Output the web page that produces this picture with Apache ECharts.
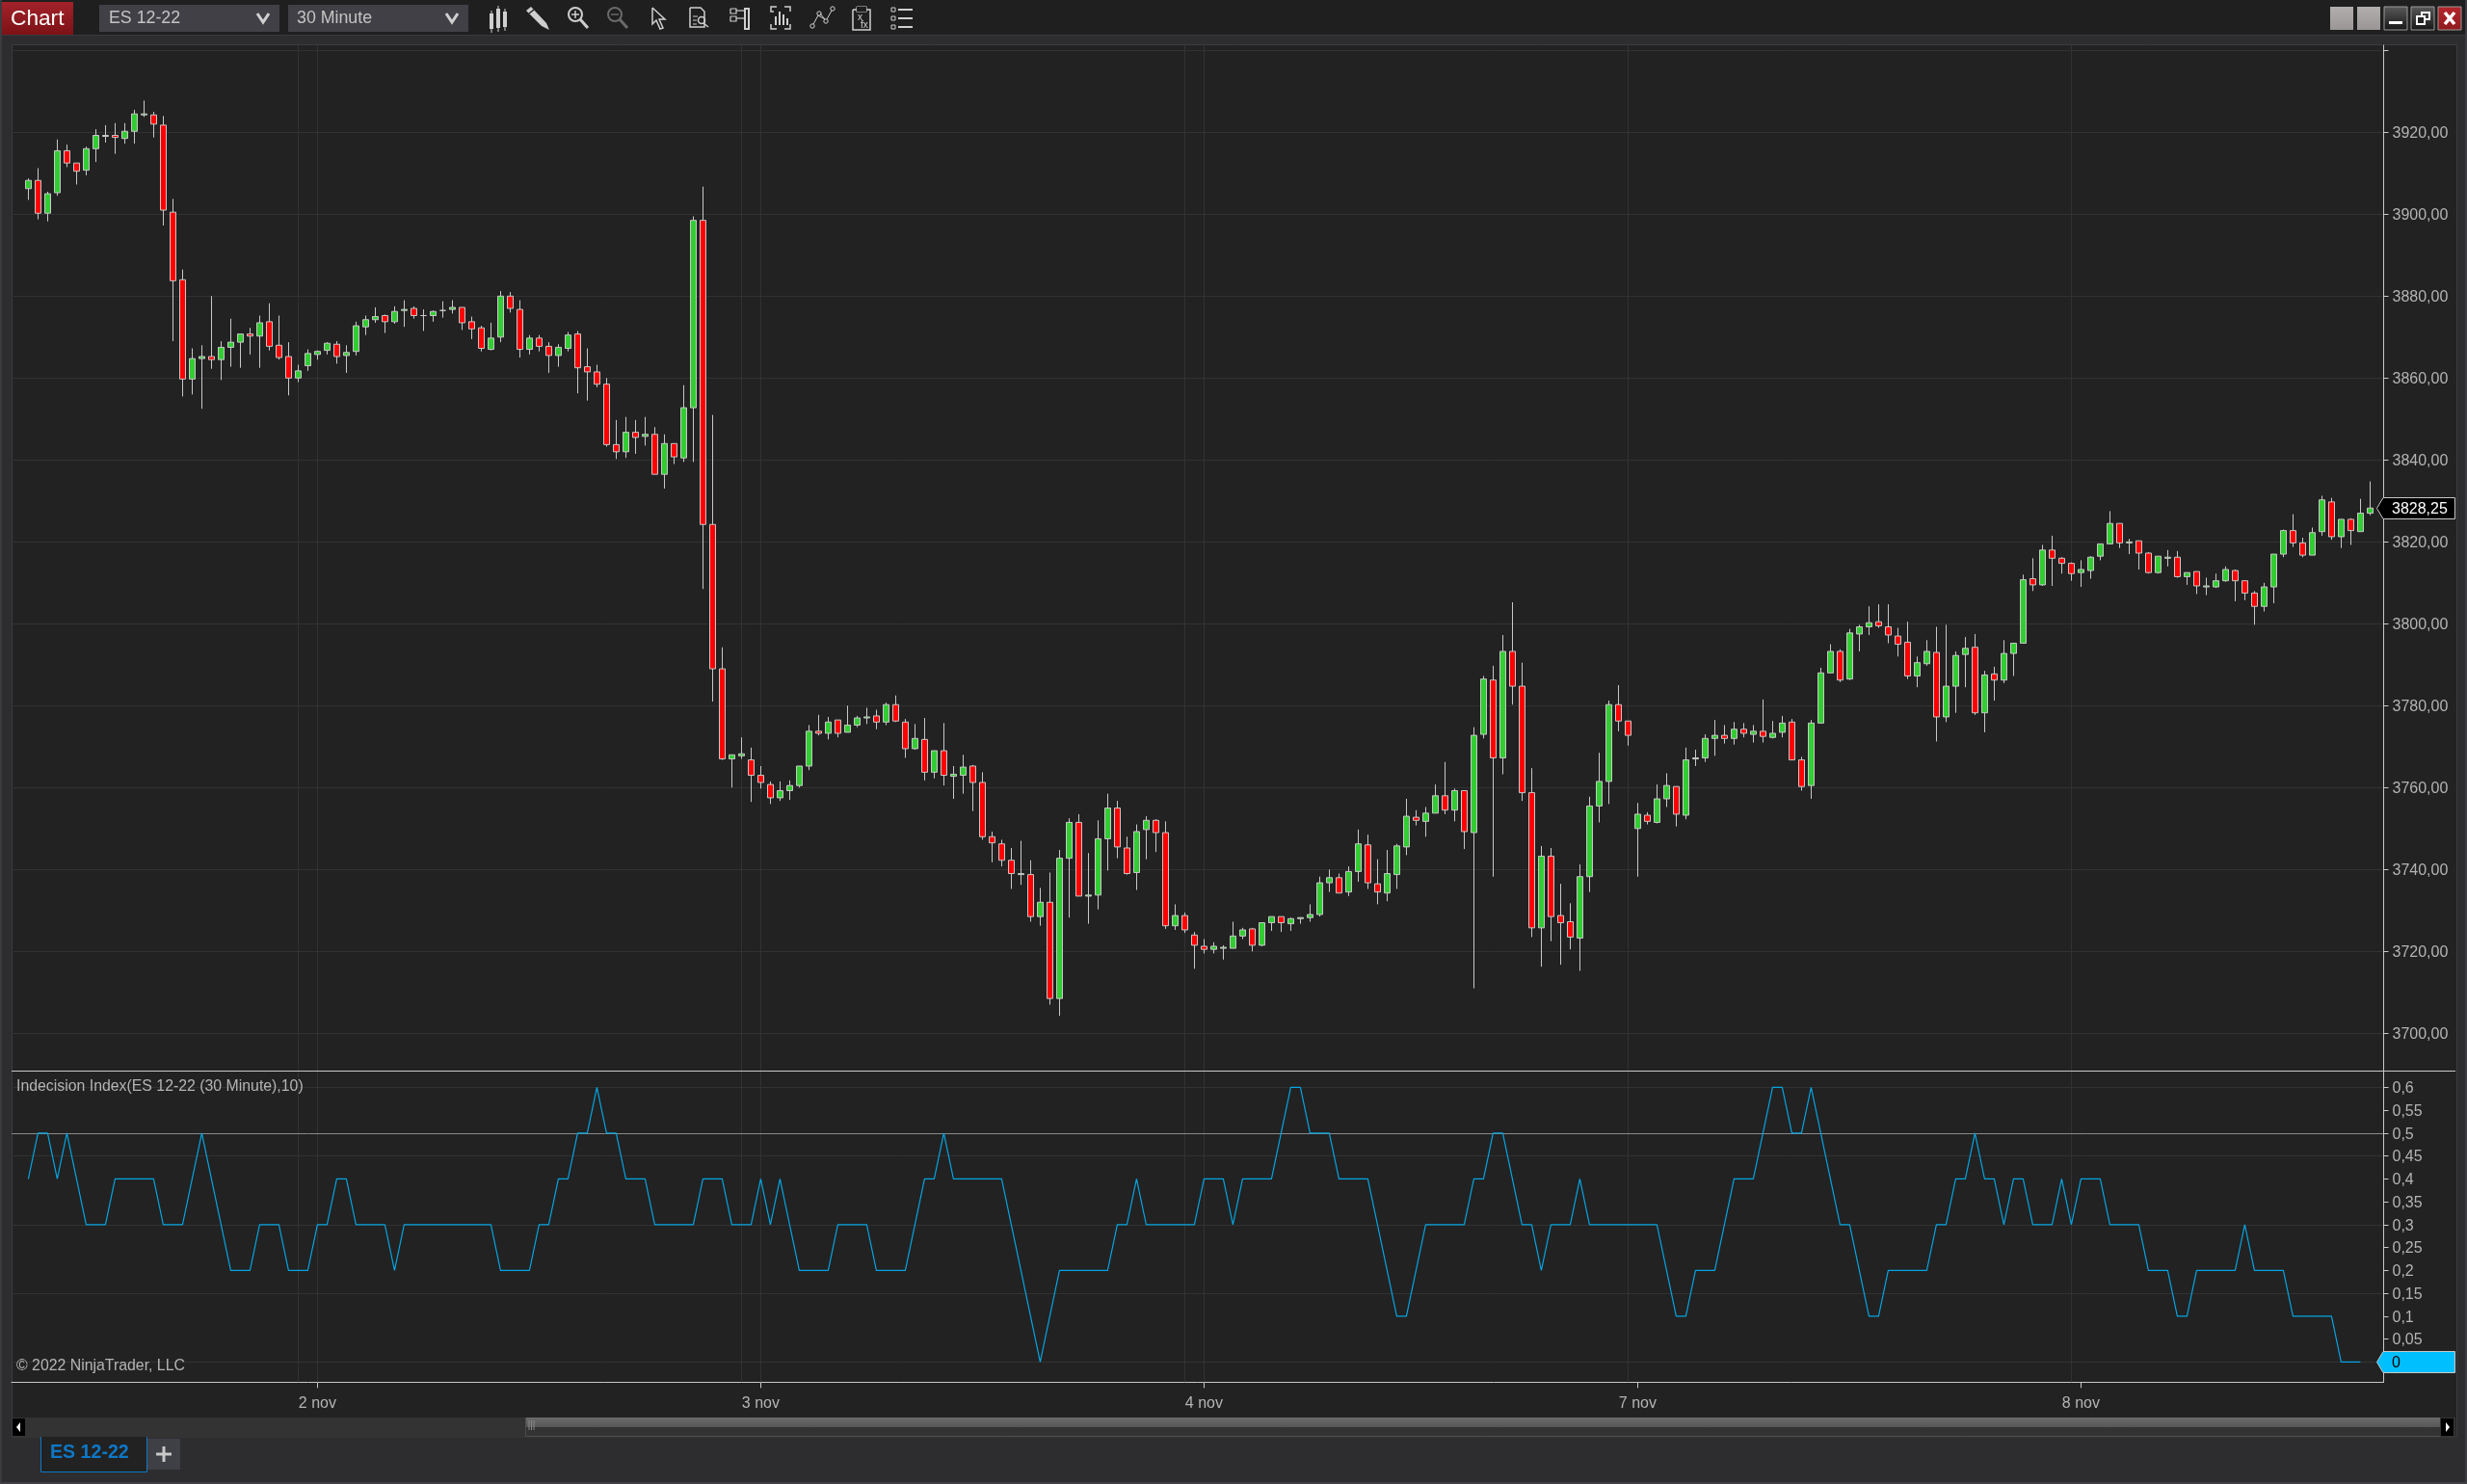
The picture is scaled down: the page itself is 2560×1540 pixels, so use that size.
<!DOCTYPE html>
<html><head><meta charset="utf-8"><title>ES 12-22 30 Minute</title>
<style>html,body{margin:0;padding:0;background:#2d2d30}#c{width:2560px;height:1540px}</style>
<script src="https://cdn.jsdelivr.net/npm/echarts@6/dist/echarts.min.js"></script>
</head><body><div id="c"></div>
<script>
const opens=[
3906.25,3908.25,3900.25,3905.25,3915.5,3912.5,3910.75,3916,3919,3919.25,
3918.5,3920.25,3924.25,3924.25,3921.75,3900.5,3884,3859.75,3864.75,3865.25,
3864.5,3867.5,3868.75,3870.75,3870.25,3873.75,3868,3865.25,3860,3863,
3865.75,3866.75,3868.25,3865.5,3866.5,3872.5,3874.25,3875.25,3873.75,3876.5,
3877,3875.25,3875.25,3876.5,3876.75,3877.25,3873.75,3872.25,3867,3870,
3880,3876.75,3867,3869.75,3867.75,3865.5,3867.25,3870.75,3862.75,3861.5,
3858.5,3843.75,3842,3846.75,3845.75,3846.25,3836.5,3844,3840.5,3852.75,
3898.5,3824.25,3789,3767,3767.75,3766.75,3763,3760.75,3757.5,3759.25,
3760.5,3765.25,3773.75,3773.25,3776.5,3773.5,3775.25,3777,3777.5,3776,
3780.25,3776,3769.5,3771.75,3763.75,3769,3762.75,3763,3765.25,3761.25,
3748,3746.25,3742.25,3738.75,3738.75,3728.5,3732,3708.5,3742.75,3751.5,
3733.5,3733.75,3747.5,3755,3745.25,3739.25,3749.75,3752,3749,3726.25,
3728.75,3724,3721.25,3720.5,3720.75,3720.75,3723.75,3725.5,3721.5,3727,
3728.5,3726.75,3728,3728.25,3729,3736.75,3738,3734.5,3739.5,3746,
3736.5,3734.25,3738.75,3745.5,3752.75,3751.75,3753.75,3758,3754.5,3759.25,
3749,3773,3786.25,3767.25,3793.25,3784.75,3758.75,3725.75,3743.25,3728.75,
3727.25,3723.25,3738.25,3755.5,3761.5,3780.25,3776.25,3750,3753.25,3751.5,
3757.25,3760.25,3753.25,3767,3767.25,3772,3772.75,3772,3774.25,3773,
3773.75,3772.25,3773.5,3776,3766.75,3760.5,3775.75,3788,3793.25,3786.5,
3797.5,3799.25,3800.5,3799.25,3797,3795.5,3787.25,3790.25,3793,3777.25,
3784.75,3792.5,3794.25,3778.25,3787.75,3786.25,3792.75,3795.25,3811,3809.5,
3818,3816,3814.75,3812.5,3813,3816.5,3819.5,3824.5,3819.75,3820.25,
3817.25,3812.5,3816,3816.25,3811.5,3812.75,3809,3809,3810.5,3813,
3810.5,3807.5,3804.25,3809,3817,3822.75,3819.75,3816.75,3822.5,3829.75,
3821.25,3825.5,3822.5,3827];
const highs=[
3908.75,3911.25,3905.5,3918.25,3917,3912.5,3916.5,3920.75,3921.75,3922.25,
3922.25,3925.5,3927.75,3925,3924,3903.75,3886.5,3867.25,3868,3880,
3869,3874.5,3870.75,3872.25,3875.25,3878.25,3875.25,3868.75,3863.25,3867,
3866.75,3868.75,3869,3868,3873.75,3875.25,3877.25,3875.5,3877.5,3879,
3877.5,3876.75,3876.5,3878.75,3879,3877.25,3875,3872.75,3873.5,3881.25,
3881,3879,3870.5,3870.5,3868.75,3868.25,3871.25,3871.5,3867.25,3863.25,
3860,3849.75,3850.5,3849.75,3850.5,3848,3846.25,3844,3858.25,3899.5,
3906.75,3851,3794.25,3768,3772.25,3769.75,3765.25,3761.5,3761.5,3761.75,
3765.25,3775.25,3777.75,3777.25,3776.5,3780,3777.5,3779.5,3779,3780.75,
3782.5,3776.75,3775.5,3777,3769,3775.75,3765.25,3768,3765.5,3763.75,
3749.25,3747.25,3745.25,3747,3742.25,3735.5,3739.25,3744.75,3752.5,3753.5,
3744,3752,3758.5,3756.75,3748,3751,3753,3752.25,3751.75,3731.5,
3729.5,3724.75,3723,3722.25,3721.5,3727.25,3725.75,3725.75,3727,3728.5,
3728.5,3728.25,3728.25,3731.5,3738.25,3740,3739,3740.75,3749.75,3748.5,
3742.5,3744.75,3746.25,3757.25,3754.5,3755.25,3760.75,3766.25,3759.75,3759.25,
3774.75,3787.25,3789.75,3797.25,3805.25,3790.5,3764.75,3745.75,3745.25,3736.5,
3731.75,3741.25,3757.75,3768.5,3781.25,3785,3776.25,3756.25,3754,3760.75,
3763.5,3760.25,3769.75,3769.25,3773,3776.5,3775.25,3776,3775.75,3775.25,
3781.5,3776.25,3777.5,3776.75,3767.5,3776.5,3789.25,3795,3793.75,3798.75,
3799.75,3804.25,3804.75,3804.75,3799,3800.5,3792,3796,3799.25,3799.75,
3793.25,3796.75,3797.5,3788.5,3789.5,3796,3795.25,3812,3816,3819.25,
3821.5,3816.25,3815,3815.5,3816.5,3819.5,3827.5,3824.5,3820.75,3820.25,
3817.5,3816.5,3818,3817.75,3812.5,3812.75,3811.25,3812.25,3814,3813.25,
3810.5,3808,3810,3817,3823,3826.75,3821,3823.5,3831.25,3830.75,
3825.5,3825.75,3830.5,3834.75];
const lows=[
3903.5,3898.75,3898.25,3904.5,3911.5,3907.25,3909.5,3912.75,3917.5,3914.75,
3917.25,3917.25,3923.75,3918.75,3897.25,3869,3855.5,3856,3852.5,3862.25,
3859.5,3862.75,3862.5,3865.75,3862.5,3866.75,3864.5,3855.75,3859,3861.75,
3864.5,3865.75,3863.5,3861.25,3865.5,3870.5,3873.5,3871,3873.25,3872.5,
3874.5,3871.5,3873.75,3874.75,3875.75,3871.75,3869.5,3866.5,3866.75,3868.75,
3876,3865,3865.75,3866.5,3861.25,3862.75,3866.5,3856.25,3854.5,3857.75,
3843.25,3840.25,3840.5,3841.5,3843.5,3836.5,3833,3839,3839.5,3839.5,
3808.5,3781,3766.75,3760,3767,3756.5,3759.75,3756,3756.75,3757,
3760,3764.25,3772.75,3771.75,3772.25,3773.5,3774.75,3775.5,3774.25,3775.25,
3776,3767.25,3769.25,3761.75,3762.25,3760.5,3757.25,3758.5,3754.25,3747.25,
3741.75,3740.75,3735.25,3736.25,3727.25,3726.25,3707,3704.25,3728.25,3733.5,
3726.75,3730.25,3739.75,3742.75,3738.75,3735,3742.5,3744.25,3725.5,3725.25,
3724.5,3715.75,3719.5,3719.5,3718,3720.75,3723,3720,3721.25,3725,
3724.75,3725,3726.75,3727.25,3728.5,3734.5,3734.25,3733.5,3737,3735.25,
3731.5,3732.25,3735.25,3743.5,3750.75,3748,3753.75,3753.5,3751.75,3745,
3711,3772,3738.25,3763.25,3780.25,3756.75,3723.5,3716.25,3722.5,3716.75,
3720.5,3715.25,3734.5,3751.5,3756,3773.75,3770.25,3738.25,3751,3751.25,
3755.25,3750.5,3752.25,3765.25,3766.25,3767.75,3770.75,3770.5,3772.25,3771,
3771,3772,3772.25,3766.75,3759.25,3757.25,3775.75,3788,3785.75,3786.25,
3793.25,3797.25,3799,3795.25,3792,3786.5,3784.5,3789.75,3771.25,3776,
3778.25,3784.5,3777.75,3773.5,3781.25,3785.5,3787.25,3795.25,3808,3809.25,
3809.25,3812.25,3810.5,3809,3811,3815.5,3819.5,3818.5,3817,3813.25,
3812.25,3812.25,3814,3811.25,3809.5,3807.25,3807,3808.75,3810.25,3805.5,
3805.75,3799.75,3803,3805,3816.25,3818.75,3816.25,3816.75,3821.5,3820.5,
3818.5,3819.25,3822.5,3826.5];
const closes=[
3908.25,3900.25,3905,3915.5,3912.5,3910.5,3916,3919.25,3919.25,3918.75,
3920.25,3924.5,3924.5,3922,3901,3883.75,3859.75,3864.75,3865.25,3864.5,
3867.5,3868.75,3870.75,3870.25,3873.5,3867.75,3865,3860,3861.75,3866,
3866.5,3868.5,3865.25,3866.25,3872.75,3874.25,3875,3873.75,3876.25,3876.75,
3875.25,3875.25,3876.25,3876.5,3877.25,3873.5,3872,3867.25,3869.75,3880,
3877,3867,3869.75,3867.75,3865.5,3867.5,3870.5,3862.5,3861.5,3858.5,
3843.75,3842,3846.75,3845.5,3846.25,3836.5,3844,3840.75,3852.75,3898.5,
3824.25,3789,3767,3768,3768.25,3763,3761.25,3757.5,3759.25,3760.5,
3765.25,3773.75,3773.25,3776,3773.25,3775.25,3777,3777.25,3776,3780.25,
3776.25,3769.5,3772,3763.75,3769,3763,3763.25,3765,3761.25,3748,
3746.5,3742.25,3739,3739,3728.5,3732,3708.5,3742.75,3751.5,3733.5,
3733.75,3747.5,3755,3745.5,3739,3749.25,3752,3749,3726.25,3728.75,
3725.25,3721.5,3720.5,3721.25,3721,3723.75,3725.25,3721.5,3727,3728.5,
3727,3728,3728.25,3729,3736.75,3738,3734.25,3739.5,3746.25,3736.75,
3734.5,3739,3745.75,3753,3752,3753.75,3758,3754.5,3759.25,3749.25,
3772.75,3786.5,3767.25,3793.25,3784.75,3758.75,3725.75,3743.25,3728.5,3727,
3723.5,3738.25,3755.5,3761.5,3780.25,3776.25,3772.75,3753.5,3751.75,3757.25,
3760.5,3753.5,3766.75,3767.25,3772,3772.75,3772,3774.25,3773.25,3773.75,
3772.5,3773.25,3775.75,3766.75,3760.25,3775.75,3788,3793.25,3786.25,3797.75,
3799.25,3800.25,3799.5,3797.25,3795,3787.25,3790.5,3793.25,3777.25,3784.75,
3792.25,3794,3778.25,3787.5,3786.25,3792.75,3795.25,3810.75,3809.5,3818,
3816,3814.75,3812.25,3813.25,3816.25,3819.5,3824.5,3819.75,3820,3817.25,
3812.5,3816.5,3816.25,3811.5,3812.5,3809.25,3809.25,3810.5,3813.25,3810.5,
3807.5,3804.25,3809,3817,3822.75,3819.75,3816.75,3822.25,3830.25,3821.25,
3825.5,3822.75,3827,3828.25];
const indecision=[
.4,.5,.5,.4,.5,.4,.3,.3,.3,.4,
.4,.4,.4,.4,.3,.3,.3,.4,.5,.4,
.3,.2,.2,.2,.3,.3,.3,.2,.2,.2,
.3,.3,.4,.4,.3,.3,.3,.3,.2,.3,
.3,.3,.3,.3,.3,.3,.3,.3,.3,.2,
.2,.2,.2,.3,.3,.4,.4,.5,.5,.6,
.5,.5,.4,.4,.4,.3,.3,.3,.3,.3,
.4,.4,.4,.3,.3,.3,.4,.3,.4,.3,
.2,.2,.2,.2,.3,.3,.3,.3,.2,.2,
.2,.2,.3,.4,.4,.5,.4,.4,.4,.4,
.4,.4,.3,.2,.1,0,.1,.2,.2,.2,
.2,.2,.2,.3,.3,.4,.3,.3,.3,.3,
.3,.3,.4,.4,.4,.3,.4,.4,.4,.4,
.5,.6,.6,.5,.5,.5,.4,.4,.4,.4,
.3,.2,.1,.1,.2,.3,.3,.3,.3,.3,
.4,.4,.5,.5,.4,.3,.3,.2,.3,.3,
.3,.4,.3,.3,.3,.3,.3,.3,.3,.3,
.2,.1,.1,.2,.2,.2,.3,.4,.4,.4,
.5,.6,.6,.5,.5,.6,.5,.4,.3,.3,
.2,.1,.1,.2,.2,.2,.2,.2,.3,.3,
.4,.4,.5,.4,.4,.3,.4,.4,.3,.3,
.3,.4,.3,.4,.4,.4,.3,.3,.3,.3,
.2,.2,.2,.1,.1,.2,.2,.2,.2,.2,
.3,.2,.2,.2,.2,.1,.1,.1,.1,.1,
0,0,0];
const priceTicks=[3700,3720,3740,3760,3780,3800,3820,3840,3860,3880,3900,3920,3940];
const priceLabels=[3700,3720,3740,3760,3780,3800,3820,3840,3860,3880,3900,3920];
const indexTicks=[0,.05,.1,.15,.2,.25,.3,.35,.4,.45,.5,.55,.6];
const indexLabels=[.05,.1,.15,.2,.25,.3,.35,.4,.45,.5,.55,.6];
const indexGrid=[0,.15,.3,.45,.6];
const indexLevel=.5;
const dayBars=[30,76,122,167,213];
const dayNames=['2 nov','3 nov','4 nov','7 nov','8 nov'];
const sessionBars=[28,30,74,76,120,122,166,212];

const FONT='"Liberation Sans"',LBL='#b4b4b4',AXC='#c8c8c8',GRID='#323232';
const chart=echarts.init(document.getElementById('c'),null,{width:2560,height:1540});
const candles=opens.map((o,i)=>[i,o,closes[i],lows[i],highs[i]]);
const linePts=indecision.map((v,i)=>[i,v]);
const vLines=sessionBars.map(b=>({xAxis:b}));
const ml=(data,color)=>({silent:true,symbol:'none',z:1,animation:false,label:{show:false},emphasis:{disabled:true},lineStyle:{type:'solid',width:1,color:color},data:data});

/* ---- window chrome helpers ---- */
const g=[];
const R=(x,y,w,h,fill,z,extra)=>g.push(Object.assign({type:'rect',silent:true,z:z==null?-10:z,shape:{x,y,width:w,height:h},style:{fill}},extra||{}));
const P=(pts,stroke,lw,z)=>g.push({type:'polyline',silent:true,z:z==null?5:z,shape:{points:pts},style:{stroke,lineWidth:lw||1.5,fill:'none'}});
const G=(pts,fill,z)=>g.push({type:'polygon',silent:true,z:z==null?5:z,shape:{points:pts},style:{fill}});
const C=(cx,cy,r,stroke,lw)=>g.push({type:'circle',silent:true,z:5,shape:{cx,cy,r},style:{stroke,lineWidth:lw||1.5,fill:'none'}});
const T=(x,y,text,fill,size,extra)=>g.push({type:'text',silent:true,z:6,x,y,style:Object.assign({text,fill,font:(size||16)+'px '+FONT,textVerticalAlign:'middle',textBaseline:'middle'},extra||{})});
const vg=(a,b)=>new echarts.graphic.LinearGradient(0,0,0,1,[{offset:0,color:a},{offset:1,color:b}]);

// frame
R(0,0,2560,37,'#1f1f1f',-11);
R(0,36,2560,1,'#3a3a3d',-10);
R(12,46,2537,1445,'#222222',-10);
P([[12,46.5],[2549.5,46.5],[2549.5,1491],[12.5,1491],[12.5,46.5]],'#3c3c3f',1,-9);
R(0,0,2,1540,'#3c3c40',-9);
R(2558,0,2,1540,'#3c3c40',-9);
R(0,1538,2560,2,'#3f3f44',-9);
// title tab + selectors
R(2,2,74,34,vg('#a3222a','#7c1216'),1);
T(11,19.5,'Chart','#ffffff',22.7);
R(103,5,187,28,'#404046',1);
T(113,19.5,'ES 12-22','#c4c4c4',17.8);
P([[267,14],[273,23],[279,14]],'#d0d0d0',3);
R(299,5,187,28,'#404046',1);
T(308,19.5,'30 Minute','#c4c4c4',17.8);
P([[463,14],[469,23],[475,14]],'#d0d0d0',3);
// toolbar icons
const IC='#cfcfcf';
[[510,14,16],[517,9,20],[524,12,16]].forEach(([x,y,h])=>{R(x-2,y,4,h,IC,5);R(x-.5,y-3,1,h+7,IC,5);});
G([[546,11],[551,7],[567,24],[570,31],[562,27]],IC);P([[549,14],[554,10]],'#1f1f1f',1.5,6);
C(597,15,7,IC,2);P([[602,20],[610,29]],IC,3);P([[593,15],[601,15]],IC,1.5);P([[597,11],[597,19]],IC,1.5);
C(638,15,7,'#6a6a6a',2);P([[643,20],[651,29]],'#6a6a6a',3);P([[634,15],[642,15]],'#6a6a6a',1.5);
P([[677,8],[677,25],[681,21],[685,30],[688,29],[684,20],[690,20],[677,8]],IC,1.5);
P([[716,8],[727,8],[731,12],[731,28],[716,28],[716,8]],IC,1.5);C(728,21,3.5,IC,1.5);P([[730,24],[735,28]],IC,1.5);P([[719,17],[724,17]],IC,1);P([[719,21],[723,21]],IC,1);P([[719,25],[723,25]],IC,1);
P([[758,9],[764,9],[764,14],[758,14],[758,9]],IC,1.2);P([[758,17],[764,17],[764,22],[758,22],[758,17]],IC,1.2);P([[764,11],[772,11]],IC,1.2);P([[764,19],[772,19]],IC,1.2);R(772,8,6,23,IC,5);R(774,10,2,19,'#1f1f1f',6);
P([[803,12],[800,12],[800,7],[806,7]],IC,1.5);P([[814,7],[820,7],[820,12]],IC,1.5);P([[800,25],[800,30],[806,30]],IC,1.5);P([[814,30],[820,30],[820,25]],IC,1.5);[[804,17,9],[808,12,14],[812,15,11],[816,19,7]].forEach(([x,y,h])=>R(x,y,2,h,IC,5));
C(843,27,2.2,IC,1);C(850,14,2.2,IC,1);C(857,22,2.2,IC,1);C(864,9,2.2,IC,1);P([[844,25],[849,16],[856,20],[851,14]],IC,1);P([[858,20],[863,11]],IC,1);
P([[885,10],[903,10],[903,31],[885,31],[885,10]],IC,1.5);R(889,7,10,5,'#1f1f1f',6);P([[889,7],[899,7],[899,12],[889,12],[889,7]],IC,1.2);T(890,18,'x','#cfcfcf',10,{});T(893,26,'fx','#cfcfcf',10,{});
[10,19,28].forEach(y=>{P([[925,y-2],[929,y-2],[929,y+2],[925,y+2],[925,y-2]],IC,1);R(932,y-1,15,2,IC,5);});
// window buttons
[[2418,vg('#b3aeae','#9a9696')],[2446,vg('#b3aeae','#9a9696')]].forEach(([x,f])=>{R(x,7,24,24,f,1);});
R(2474,7,24,24,vg('#5a5a5a','#161616'),1,{style:{fill:vg('#5a5a5a','#161616'),stroke:'#999',lineWidth:1}});
R(2479,22,14,3,'#ffffff',5);
R(2502,7,24,24,'#333',1,{style:{fill:vg('#5a5a5a','#161616'),stroke:'#999',lineWidth:1}});
g.push({type:'rect',silent:true,z:5,shape:{x:2513,y:13,width:8,height:7},style:{fill:'none',stroke:'#fff',lineWidth:2}});
g.push({type:'rect',silent:true,z:6,shape:{x:2508,y:17,width:8,height:8},style:{fill:'#222',stroke:'#fff',lineWidth:2}});
R(2530,7,24,24,'#b0222a',1,{style:{fill:vg('#b5262c','#8e1a1e'),stroke:'#999',lineWidth:1}});
P([[2537,13],[2547,25]],'#fff',3.5);P([[2547,13],[2537,25]],'#fff',3.5);
// panel separators
P([[12,1111.5],[2548,1111.5]],'#c8c8c8',1,8);
P([[2473.5,47],[2473.5,1434.5]],'#c8c8c8',1,8);
// scrollbar
R(13,1471,2535,20,'#333333',1);
R(545,1471,1987,10,vg('#6c6c6c','#565656'),2);
P([[545.5,1471],[545.5,1490.5],[2532,1490.5]],'#4d4d4d',1,3);
[549,551.5,554].forEach(x=>P([[x,1474],[x,1484]],'#8a8a8a',1,4));
R(13,1472,13,18,'#000000',3);G([[21,1476],[21,1486],[17,1481]],'#ffffff');
R(2533,1472,13,18,'#000000',3);G([[2538,1476],[2538,1486],[2542,1481]],'#ffffff');
// tabs
R(42,1491,110,37,'#222222',1);
P([[42.5,1491],[42.5,1527.5],[152.5,1527.5],[152.5,1491]],'#0e78c8',1,3);
T(52,1508,'ES 12-22','#0e78c8',19.6,{font:'bold 19.6px '+FONT});
R(153,1493,34,32,'#3f3f46',1);
R(162,1507.5,16,3,'#c8c8c8',5);R(168.5,1501,3,16,'#c8c8c8',5);
// panel captions
T(17,1127.5,'Indecision Index(ES 12-22 (30 Minute),10)',LBL,15.85);
T(17,1418,'\u00a9 2022 NinjaTrader, LLC',LBL,15.85);

chart.setOption({
  animation:false,
  backgroundColor:'#2d2d30',
  textStyle:{fontFamily:FONT},
  grid:[
    {left:12,top:47,width:2461.5,height:1064.3,containLabel:false},
    {left:12,top:1111.3,width:2461.5,height:323,containLabel:false}
  ],
  xAxis:[
    {gridIndex:0,type:'value',min:-1.74,max:244.41,show:false,splitLine:{show:false}},
    {gridIndex:1,type:'value',min:-1.74,max:244.41,splitLine:{show:false},
     axisLine:{show:true,onZero:false,lineStyle:{color:AXC,width:1}},
     axisTick:{show:true,length:6,lineStyle:{color:AXC},customValues:dayBars},
     axisLabel:{color:LBL,fontSize:16,fontFamily:FONT,margin:14,customValues:dayBars,
       formatter:v=>dayNames[dayBars.indexOf(v)]||''}}
  ],
  yAxis:[
    {gridIndex:0,type:'value',position:'right',min:3690.82,max:3941.25,scale:true,
     splitLine:{show:true,lineStyle:{color:GRID,width:1}},
     axisLine:{show:true,onZero:false,lineStyle:{color:AXC}},
     axisTick:{show:true,length:5,lineStyle:{color:AXC},customValues:priceTicks},
     axisLabel:{color:LBL,fontSize:16,fontFamily:FONT,margin:9,verticalAlign:'top',lineHeight:3,customValues:priceLabels,
       formatter:v=>v.toFixed(2).replace('.',',')}},
    {gridIndex:1,type:'value',position:'right',min:-0.0442,max:0.6358,
     splitLine:{show:false},
     axisLine:{show:true,onZero:false,lineStyle:{color:AXC}},
     axisTick:{show:true,length:5,lineStyle:{color:AXC},customValues:indexTicks},
     axisLabel:{color:LBL,fontSize:16,fontFamily:FONT,margin:9,verticalAlign:'top',lineHeight:3,customValues:indexLabels,
       formatter:v=>String(+v.toFixed(2)).replace('.',',')}}
  ],
  series:[
    {type:'candlestick',name:'ES 12-22',xAxisIndex:0,yAxisIndex:0,barWidth:6,data:candles,large:false,
     itemStyle:{color:'#32CD32',color0:'#FF0000',borderColor:'#C8C8C8',borderColor0:'#C8C8C8',borderColorDoji:'#C8C8C8',borderWidth:1},
     markLine:ml(vLines,GRID)},
    {type:'line',name:'Indecision Index',xAxisIndex:1,yAxisIndex:1,data:linePts,symbol:'none',showSymbol:false,
     lineStyle:{color:'#05a5e2',width:1.2},
     markLine:ml(vLines.concat(indexGrid.map(v=>({yAxis:v}))),GRID)},
    {type:'line',name:'Level',xAxisIndex:1,yAxisIndex:1,data:[],symbol:'none',z:3,
     markLine:Object.assign(ml([{yAxis:indexLevel}],'#8a8a8a'),{z:3})}
  ],
  graphic:{elements:g}
});

// last-value flags, positioned through the axes
const lastPrice=closes[closes.length-1], lastIndex=indecision[indecision.length-1];
const py=chart.convertToPixel({yAxisIndex:0},lastPrice), iy=chart.convertToPixel({yAxisIndex:1},lastIndex);
const flag=(y,h,fill,stroke,text,tc)=>{
  const yc=Math.round(y)+.5;
  g.push({type:'polygon',silent:true,z:9,shape:{points:[[2466.5,yc],[2473,yc-h],[2547.5,yc-h],[2547.5,yc+h],[2473,yc+h]]},style:{fill,stroke,lineWidth:1}});
  g.push({type:'text',silent:true,z:10,x:2482,y:yc+1.5,style:{text,fill:tc,font:'16px '+FONT,textVerticalAlign:'middle',textBaseline:'middle'}});
};
flag(py,11,'#000000','#c8c8c8',lastPrice.toFixed(2).replace('.',','),'#ffffff');
flag(iy,11,'#00BFFF','#c8c8c8',String(lastIndex).replace('.',','),'#000000');
chart.setOption({graphic:{elements:g}},{replaceMerge:['graphic']});
</script></body></html>
